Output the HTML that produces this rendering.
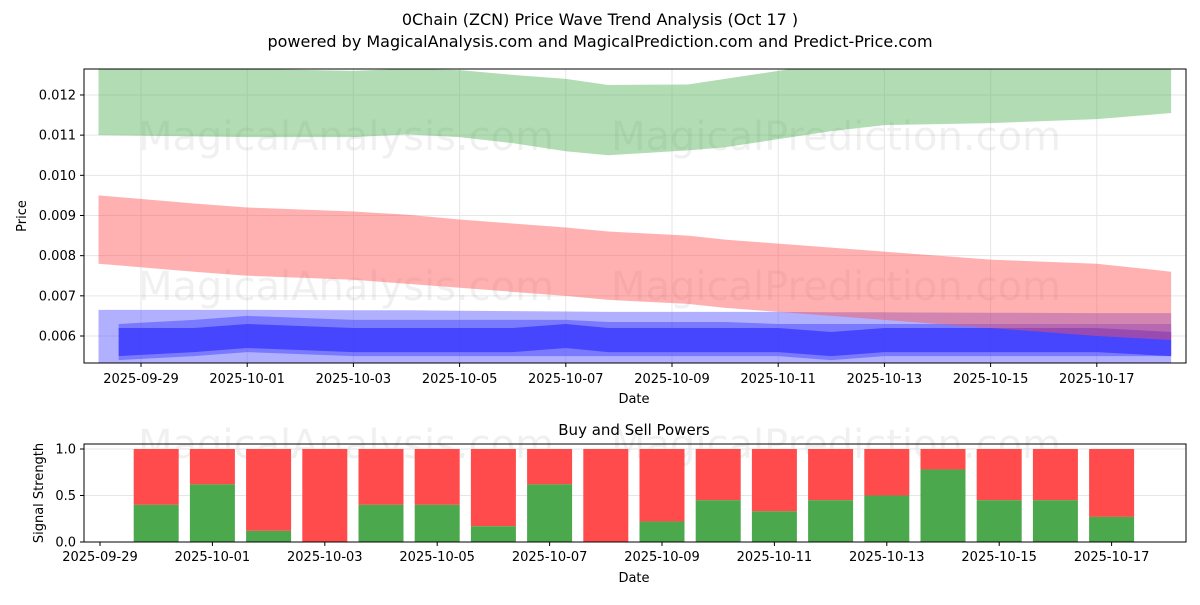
<!DOCTYPE html>
<html><head><meta charset="utf-8"><style>
body{margin:0;background:#fff;width:1200px;height:600px;overflow:hidden;font-family:"Liberation Sans","DejaVu Sans",sans-serif}
svg text{font-family:"DejaVu Sans","Liberation Sans",sans-serif}
</style></head><body>
<svg id="c" width="1200" height="600" xmlns="http://www.w3.org/2000/svg">
<text x="600" y="25" text-anchor="middle" font-size="16">0Chain (ZCN) Price Wave Trend Analysis (Oct 17 )</text>
<text x="600" y="47" text-anchor="middle" font-size="16">powered by MagicalAnalysis.com and MagicalPrediction.com and Predict-Price.com</text>
<text x="634" y="435" text-anchor="middle" font-size="15">Buy and Sell Powers</text>
</svg>
<script>
// Price chart data (days since 2025-09-29)
const bandDays=[-0.8,1,2,4,5,6,7,8,8.8,10.3,11,12,13,14,16,18,19.4];
const greenLow=[0.0110,0.01097,0.01095,0.01095,0.01102,0.01095,0.0108,0.0106,0.0105,0.01062,0.0107,0.0109,0.0111,0.01125,0.0113,0.0114,0.01155];
const greenHigh=[0.0128,0.01268,0.01265,0.0126,0.01265,0.01262,0.0125,0.0124,0.01225,0.01226,0.0124,0.0126,0.0128,0.0129,0.0129,0.0129,0.0129];
const redHigh=[0.0095,0.0093,0.0092,0.0091,0.00902,0.0089,0.0088,0.0087,0.0086,0.0085,0.0084,0.0083,0.0082,0.0081,0.0079,0.0078,0.0076];
const redLow=[0.0078,0.0076,0.0075,0.0074,0.0073,0.0072,0.0071,0.007,0.0069,0.0068,0.0067,0.0066,0.0065,0.0064,0.0062,0.006,0.0059];
const blueOuterHigh=[0.00665,0.00665,0.00665,0.00664,0.00664,0.00663,0.00662,0.00661,0.0066,0.0066,0.0066,0.0066,0.00659,0.00659,0.00658,0.00657,0.00657];
const blueOuterLow=[0.0053,0.0053,0.0053,0.0053,0.0053,0.0053,0.0053,0.0053,0.0053,0.0053,0.0053,0.0053,0.0053,0.0053,0.0053,0.0053,0.0053];
const blueMidHigh=[0.0063,0.0064,0.0065,0.0064,0.0064,0.0064,0.0064,0.0064,0.00635,0.00635,0.00635,0.0063,0.0063,0.0063,0.0063,0.0063,0.0063];
const blueMidLow=[0.0054,0.0055,0.0056,0.0055,0.0055,0.0055,0.0055,0.0055,0.0055,0.0055,0.0055,0.0055,0.0054,0.0055,0.0055,0.0055,0.0055];
const blueCoreHigh=[0.0062,0.0062,0.0063,0.0062,0.0062,0.0062,0.0062,0.0063,0.0062,0.0062,0.0062,0.0062,0.0061,0.0062,0.0062,0.0062,0.0061];
const blueCoreLow=[0.0055,0.0056,0.0057,0.0056,0.0056,0.0056,0.0056,0.0057,0.0056,0.0056,0.0056,0.0056,0.0055,0.0056,0.0056,0.0056,0.0055];
const priceTicks=[0.006,0.007,0.008,0.009,0.010,0.011,0.012];
const dateTicks=[0,2,4,6,8,10,12,14,16,18];
const dateLabels=["2025-09-29","2025-10-01","2025-10-03","2025-10-05","2025-10-07","2025-10-09","2025-10-11","2025-10-13","2025-10-15","2025-10-17"];
// Buy/sell data
const barDays=[1,2,3,4,5,6,7,8,9,10,11,12,13,14,15,16,17,18];
const buyPower=[0.4,0.62,0.12,0.0,0.4,0.4,0.17,0.62,0.0,0.22,0.45,0.33,0.45,0.5,0.78,0.45,0.45,0.27];
const sigTicks=[0,0.5,1.0];

const NS="http://www.w3.org/2000/svg";
const svg=document.getElementById('c');
function el(t,a,p){const e=document.createElementNS(NS,t);for(const k in a)e.setAttribute(k,a[k]);(p||svg).appendChild(e);return e;}
const T={l:84,r:1186,t:69,b:363};
const xT=d=>141+d*53.1;
const yT=v=>336-(v-0.006)*40170;
const B={l:84,r:1186,t:444,b:542};
const xB=d=>100+d*56.2;
const yB=v=>542-v*93;

const clip=el('clipPath',{id:'cp'});el('rect',{x:T.l,y:T.t,width:T.r-T.l,height:T.b-T.t},clip);
priceTicks.forEach(v=>{const g=el('line',{x1:T.l,x2:T.r,y1:yT(v),y2:yT(v),stroke:'#e6e6e6'});});
dateTicks.forEach(d=>{const g=el('line',{x1:xT(d),x2:xT(d),y1:T.t,y2:T.b,stroke:'#e6e6e6'});});
[[346,150,'MagicalAnalysis.com'],[836,150,'MagicalPrediction.com'],[346,300,'MagicalAnalysis.com'],[836,300,'MagicalPrediction.com'],[346,458,'MagicalAnalysis.com'],[836,458,'MagicalPrediction.com']].forEach(w=>{const t=el('text',{x:w[0],y:w[1],'text-anchor':'middle','font-size':'40',fill:'rgba(0,0,0,0.06)'});t.textContent=w[2];});
const g=el('g',{'clip-path':'url(#cp)'});
function band(hi,lo,fill,op,name,startIdxDay){
  let pts=[];
  bandDays.forEach((d,i)=>{const dd=(i===0&&startIdxDay!==undefined)?startIdxDay:d;pts.push(xT(dd)+','+yT(hi[i]));});
  for(let i=bandDays.length-1;i>=0;i--){const dd=(i===0&&startIdxDay!==undefined)?startIdxDay:bandDays[i];pts.push(xT(dd)+','+yT(lo[i]));}
  const p=el('polygon',{points:pts.join(' '),fill:fill,'fill-opacity':op},g);
  
}
band(greenHigh,greenLow,'#4caf50',0.43,'green-band');
band(blueOuterHigh,blueOuterLow,'#5050ff',0.45,'blue-outer-band');
band(blueMidHigh,blueMidLow,'#3a3aff',0.45,'blue-mid-band',-0.42);
band(blueCoreHigh,blueCoreLow,'#3030ff',0.7,'blue-core-band',-0.42);
band(redHigh,redLow,'#ff5252',0.45,'red-band');
const f=el('rect',{x:T.l,y:T.t,width:T.r-T.l,height:T.b-T.t,fill:'none',stroke:'#000','stroke-width':1});
priceTicks.forEach(v=>{el('line',{x1:T.l-4,x2:T.l,y1:yT(v),y2:yT(v),stroke:'#000'});const t=el('text',{x:T.l-8,y:yT(v)+4.5,'text-anchor':'end','font-size':'13'});t.textContent=v.toFixed(3);});
dateTicks.forEach((d,i)=>{el('line',{x1:xT(d),x2:xT(d),y1:T.b,y2:T.b+4,stroke:'#000'});const t=el('text',{x:xT(d),y:T.b+20,'text-anchor':'middle','font-size':'13'});t.textContent=dateLabels[i];});
let t=el('text',{x:634,y:403,'text-anchor':'middle','font-size':'13'});t.textContent='Date';
t=el('text',{x:26,y:216,'text-anchor':'middle','font-size':'13',transform:'rotate(-90 26 216)'});t.textContent='Price';

sigTicks.forEach(v=>{const l=el('line',{x1:B.l,x2:B.r,y1:yB(v),y2:yB(v),stroke:'#e6e6e6'});});
barDays.forEach((d,i)=>{const x=xB(d)-22.5;
  const r=el('rect',{x:x,y:yB(1),width:45,height:yB(buyPower[i])-yB(1),fill:'#ff4b4b'});
  const gr=el('rect',{x:x,y:yB(buyPower[i]),width:45,height:yB(0)-yB(buyPower[i]),fill:'#4ca84c'});});
const f2=el('rect',{x:B.l,y:B.t,width:B.r-B.l,height:B.b-B.t,fill:'none',stroke:'#000'});
sigTicks.forEach(v=>{el('line',{x1:B.l-4,x2:B.l,y1:yB(v),y2:yB(v),stroke:'#000'});const t=el('text',{x:B.l-8,y:yB(v)+4.5,'text-anchor':'end','font-size':'13'});t.textContent=v.toFixed(1);});
dateTicks.forEach((d,i)=>{el('line',{x1:xB(d),x2:xB(d),y1:B.b,y2:B.b+4,stroke:'#000'});const t=el('text',{x:xB(d),y:B.b+19,'text-anchor':'middle','font-size':'13'});t.textContent=dateLabels[i];});
t=el('text',{x:634,y:582,'text-anchor':'middle','font-size':'13'});t.textContent='Date';
t=el('text',{x:43,y:493,'text-anchor':'middle','font-size':'13',transform:'rotate(-90 43 493)'});t.textContent='Signal Strength';
</script>
</body></html>
